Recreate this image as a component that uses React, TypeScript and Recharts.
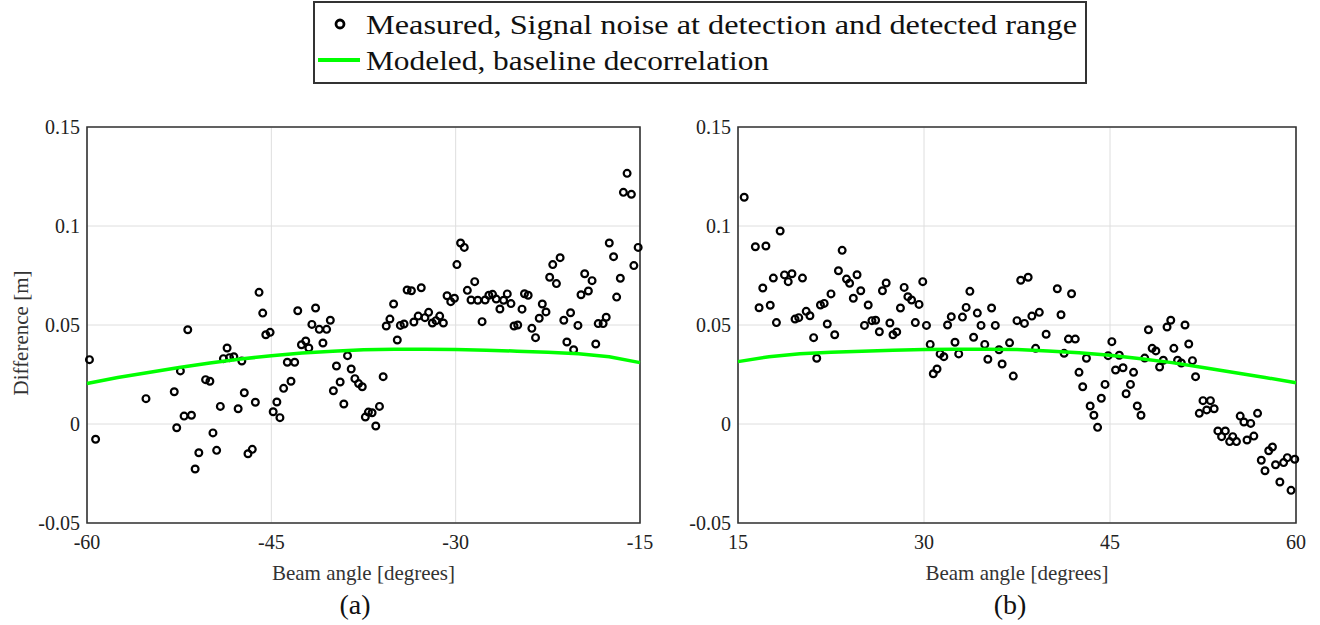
import React from "react";
import {
  ScatterChart,
  Scatter,
  XAxis,
  YAxis,
  CartesianGrid,
  ReferenceArea,
  Label,
} from "recharts";

// [beam angle (deg), difference (m)]
const leftMeasured: [number, number][] = [
  [-59.8, 0.0325], [-59.3, -0.0077], [-55.2, 0.0128], [-52.9, 0.0163], [-52.7, -0.0019],
  [-52.4, 0.0268], [-51.8, 0.0476], [-52.1, 0.004], [-51.5, 0.0044], [-51.2, -0.0227],
  [-50.9, -0.0145], [-50.35, 0.0224], [-50.0, 0.0216], [-49.75, -0.0045], [-49.45, -0.0133],
  [-49.15, 0.0089], [-48.6, 0.0384], [-48.9, 0.033], [-48.4, 0.0335], [-48.05, 0.034],
  [-47.4, 0.0318], [-47.7, 0.0077], [-47.2, 0.0158], [-46.9, -0.015], [-46.55, -0.0128],
  [-46.3, 0.011], [-46.0, 0.0665], [-45.7, 0.056], [-45.45, 0.0451], [-45.1, 0.0463],
  [-44.85, 0.0062], [-44.55, 0.0111], [-44.3, 0.0032], [-44.0, 0.018], [-43.4, 0.0216],
  [-43.7, 0.0312], [-43.1, 0.0312], [-42.85, 0.0572], [-41.4, 0.0586], [-42.55, 0.04],
  [-42.2, 0.0419], [-41.95, 0.0384], [-41.7, 0.0503], [-41.1, 0.0478], [-40.5, 0.0478],
  [-40.2, 0.0524], [-40.8, 0.0409], [-39.7, 0.0293], [-39.4, 0.0212], [-39.95, 0.0168],
  [-39.1, 0.0101], [-38.8, 0.0345], [-38.5, 0.0278], [-38.2, 0.0229], [-37.9, 0.0204],
  [-37.6, 0.0188], [-37.35, 0.0035], [-37.1, 0.006], [-36.8, 0.0057], [-36.5, -0.001],
  [-36.2, 0.0089], [-35.9, 0.0239], [-35.05, 0.0606], [-35.35, 0.053], [-35.65, 0.0495],
  [-34.75, 0.0424], [-33.95, 0.0677], [-33.6, 0.0673], [-32.8, 0.0688], [-34.5, 0.0498],
  [-34.2, 0.0505], [-33.4, 0.0515], [-33.05, 0.0545], [-32.5, 0.0537], [-32.2, 0.0564],
  [-31.9, 0.051], [-31.6, 0.0522], [-31.3, 0.0545], [-31.0, 0.051], [-30.7, 0.0648],
  [-30.4, 0.0618], [-30.1, 0.0635], [-29.9, 0.0805], [-29.6, 0.0914], [-29.3, 0.0892],
  [-29.05, 0.0675], [-28.45, 0.0719], [-28.75, 0.0626], [-28.2, 0.0625], [-27.6, 0.0626],
  [-27.85, 0.0517], [-27.3, 0.065], [-27.0, 0.0655], [-26.7, 0.0631], [-26.1, 0.0625],
  [-25.8, 0.0657], [-25.5, 0.0608], [-26.4, 0.0581], [-24.6, 0.058], [-25.25, 0.0495],
  [-24.95, 0.05], [-24.4, 0.0658], [-24.1, 0.065], [-23.8, 0.0483], [-23.5, 0.0436],
  [-23.2, 0.0534], [-22.65, 0.0566], [-22.95, 0.0606], [-22.35, 0.0741], [-21.8, 0.0709],
  [-22.1, 0.0805], [-21.5, 0.084], [-21.2, 0.0524], [-20.65, 0.0562], [-20.05, 0.0498],
  [-20.95, 0.0414], [-20.4, 0.0375], [-19.8, 0.0653], [-19.2, 0.0672], [-19.5, 0.0759],
  [-18.9, 0.0724], [-18.6, 0.0404], [-18.4, 0.0507], [-18.0, 0.0507], [-17.75, 0.0539],
  [-17.5, 0.0914], [-17.15, 0.0845], [-16.9, 0.0641], [-16.6, 0.0736], [-16.35, 0.117],
  [-15.7, 0.116], [-16.05, 0.1266], [-15.5, 0.08], [-15.15, 0.0892],
];

const rightMeasured: [number, number][] = [
  [15.5, 0.1145], [18.4, 0.0975], [16.4, 0.0895], [17.25, 0.0899], [23.4, 0.0877],
  [17.85, 0.0737], [18.75, 0.0753], [19.35, 0.0759], [19.05, 0.0719], [20.2, 0.0737],
  [17.0, 0.0687], [16.7, 0.0587], [17.6, 0.06], [23.1, 0.0774], [23.75, 0.0732],
  [24.6, 0.0754], [24.0, 0.0711], [24.9, 0.0673], [22.5, 0.0657], [24.3, 0.0635],
  [21.65, 0.0601], [21.95, 0.0609], [25.5, 0.0601], [26.65, 0.0673], [26.95, 0.0712],
  [28.4, 0.069], [28.7, 0.0643], [29.0, 0.0626], [29.6, 0.0604], [29.9, 0.0719],
  [28.1, 0.0586], [33.7, 0.067], [33.4, 0.0589], [34.3, 0.056], [35.45, 0.0586],
  [32.2, 0.0542], [33.1, 0.054], [37.8, 0.0726], [38.4, 0.0741], [18.1, 0.0512],
  [19.6, 0.053], [19.9, 0.0537], [20.5, 0.0569], [20.8, 0.0547], [21.1, 0.0436],
  [21.35, 0.0332], [22.2, 0.0505], [22.8, 0.0451], [25.2, 0.0498], [25.8, 0.0522],
  [26.1, 0.0524], [26.4, 0.0466], [27.25, 0.051], [27.5, 0.0451], [27.8, 0.0465],
  [29.3, 0.0512], [30.2, 0.0498], [30.5, 0.0402], [30.75, 0.0254], [31.05, 0.0278],
  [31.3, 0.0354], [31.6, 0.034], [31.9, 0.05], [32.5, 0.0413], [32.8, 0.0354],
  [34.0, 0.0438], [34.6, 0.0498], [34.9, 0.0402], [35.15, 0.0327], [35.75, 0.0498],
  [36.05, 0.0375], [36.3, 0.0303], [36.9, 0.041], [37.2, 0.0242], [37.5, 0.0522],
  [38.1, 0.0508], [38.7, 0.0545], [39.3, 0.0564], [39.0, 0.0382], [39.85, 0.0453],
  [41.05, 0.0552], [40.75, 0.0683], [41.9, 0.0658], [41.3, 0.0357], [41.65, 0.0429],
  [42.2, 0.0429], [42.5, 0.0261], [42.8, 0.0188], [43.1, 0.0332], [43.4, 0.0091],
  [43.7, 0.0044], [44.0, -0.0017], [44.3, 0.013], [44.6, 0.02], [44.85, 0.0345],
  [45.15, 0.0416], [45.45, 0.0273], [45.75, 0.0347], [46.05, 0.0284], [46.3, 0.0153],
  [46.65, 0.02], [46.9, 0.0261], [47.2, 0.0091], [47.5, 0.0044], [47.8, 0.0333],
  [48.1, 0.0476], [48.4, 0.0382], [48.7, 0.0369], [49.0, 0.0288], [49.3, 0.0322],
  [49.6, 0.049], [49.9, 0.0524], [50.15, 0.0382], [50.45, 0.0322], [50.75, 0.0308],
  [51.05, 0.05], [51.35, 0.0404], [51.65, 0.032], [51.9, 0.0239], [52.2, 0.0054],
  [52.5, 0.0118], [52.8, 0.0071], [53.1, 0.0118], [53.4, 0.0077], [53.7, -0.0035],
  [54.0, -0.0064], [54.3, -0.0035], [54.65, -0.0089], [54.9, -0.0064], [55.2, -0.0089],
  [55.5, 0.004], [55.8, 0.001], [56.05, -0.0081], [56.35, 0.0003], [56.6, -0.0061],
  [56.9, 0.0054], [57.2, -0.0183], [57.5, -0.0236], [57.8, -0.0135], [58.1, -0.0116],
  [58.35, -0.0206], [58.7, -0.0293], [59.0, -0.0195], [59.3, -0.017], [59.6, -0.0335],
  [59.9, -0.0178],
];

// modeled baseline decorrelation curve
const leftModelAngles = [-60, -57.5, -55, -52.5, -50, -47.5, -45, -42.5, -40, -37.5, -35, -32.5, -30, -27.5, -25, -22.5, -20, -17.5, -15];
const leftModel = [0.0205, 0.0235, 0.026, 0.0285, 0.0308, 0.0328, 0.0345, 0.0358, 0.0368, 0.0375, 0.0378, 0.0378, 0.0376, 0.0373, 0.0368, 0.0362, 0.0355, 0.034, 0.031];
const rightModelAngles = [15, 17.5, 20, 22.5, 25, 27.5, 30, 32.5, 35, 37.5, 40, 42.5, 45, 47.5, 50, 52.5, 55, 57.5, 60];
const rightModel = [0.0315, 0.034, 0.0355, 0.0362, 0.0368, 0.0372, 0.0376, 0.0378, 0.0378, 0.0376, 0.0369, 0.036, 0.0347, 0.033, 0.031, 0.0285, 0.026, 0.0235, 0.0208];

const leftTicks = [-60, -45, -30, -15];
const rightTicks = [15, 30, 45, 60];
const yTicks = [-0.05, 0, 0.05, 0.1, 0.15];

const FONT = "'Liberation Serif', 'DejaVu Serif', serif";
const GREEN = "#00ff00";
const serif = { fontFamily: FONT };

const Ring = (props: any) => (
  <circle cx={props.cx} cy={props.cy} r={3.4} fill="none" stroke="#000" strokeWidth={2.2} />
);

const XTick = (props: any) => (
  <text x={props.x} y={props.y + 7} textAnchor="middle" dominantBaseline="central" fill="#222" fontSize={20} style={serif}>
    {props.payload.value}
  </text>
);

const YTick = (props: any) => (
  <text x={props.x} y={props.y} textAnchor="end" dominantBaseline="central" fill="#222" fontSize={20} style={serif}>
    {String(props.payload.value)}
  </text>
);

type PanelProps = {
  measured: [number, number][];
  modelX: number[];
  modelY: number[];
  ticks: number[];
  left: number;
  width: number;
  yAxisWidth: number;
  marginRight: number;
  showYLabel: boolean;
};

function Panel({ measured, modelX, modelY, ticks, left, width, yAxisWidth, marginRight, showYLabel }: PanelProps) {
  const points = measured.map(([x, y]) => ({ x, y }));
  const model = modelX.map((x, i) => ({ x, y: modelY[i] }));
  const domain: [number, number] = [ticks[0], ticks[ticks.length - 1]];
  return (
    <div style={{ position: "absolute", left, top: 100 }}>
      <ScatterChart width={width} height={500} margin={{ top: 27, right: marginRight, bottom: 0, left: 0 }}>
        <CartesianGrid stroke="#dedede" strokeWidth={1} />
        <XAxis
          type="number"
          dataKey="x"
          domain={domain}
          ticks={ticks}
          interval={0}
          height={77}
          tickLine={false}
          axisLine={false}
          tickSize={0}
          tickMargin={12}
          tick={<XTick />}
        >
          <Label
            content={(p: any) => (
              <text
                x={p.viewBox.x + p.viewBox.width / 2}
                y={p.viewBox.y + 50}
                textAnchor="middle"
                dominantBaseline="central"
                fill="#333"
                fontSize={21}
                style={serif}
              >
                Beam angle [degrees]
              </text>
            )}
          />
        </XAxis>
        <YAxis
          type="number"
          dataKey="y"
          domain={[-0.05, 0.15]}
          ticks={yTicks}
          interval={0}
          width={yAxisWidth}
          tickLine={false}
          axisLine={false}
          tickSize={0}
          tickMargin={7}
          tick={<YTick />}
        >
          {showYLabel && (
            <Label
              content={(p: any) => {
                const cx = 21;
                const cy = p.viewBox.y + p.viewBox.height / 2 + 8;
                return (
                  <text
                    x={cx}
                    y={cy}
                    transform={`rotate(-90, ${cx}, ${cy})`}
                    textAnchor="middle"
                    dominantBaseline="central"
                    fill="#333"
                    fontSize={21}
                    style={serif}
                  >
                    Difference [m]
                  </text>
                );
              }}
            />
          )}
        </YAxis>
        <ReferenceArea
          x1={domain[0]}
          x2={domain[1]}
          y1={-0.05}
          y2={0.15}
          fill="none"
          fillOpacity={0}
          stroke="#333"
          strokeWidth={1.6}
        />
        <Scatter data={points} shape={Ring} isAnimationActive={false} />
        <Scatter
          data={model}
          line={{ stroke: GREEN, strokeWidth: 3.5 }}
          lineType="joint"
          shape={() => <g />}
          isAnimationActive={false}
        />
      </ScatterChart>
    </div>
  );
}

export default function App() {
  return (
    <div style={{ position: "absolute", left: 0, top: 0, width: 1320, height: 625, background: "#fff", fontFamily: FONT }}>
      <svg style={{ position: "absolute", left: 0, top: 0 }} width={1320} height={90}>
        <rect x={314} y={2} width={772} height={81} fill="#fff" stroke="#333" strokeWidth={2} />
        <circle cx={340} cy={24} r={4} fill="none" stroke="#000" strokeWidth={2.8} />
        <line x1={318} y1={60} x2={360} y2={60} stroke={GREEN} strokeWidth={4} />
        <text x={366} y={24} dominantBaseline="central" fontSize={28} style={serif} fill="#111" textLength={711} lengthAdjust="spacingAndGlyphs">
          Measured, Signal noise at detection and detected range
        </text>
        <text x={366} y={60} dominantBaseline="central" fontSize={28} style={serif} fill="#111" textLength={403} lengthAdjust="spacingAndGlyphs">
          Modeled, baseline decorrelation
        </text>
      </svg>
      <Panel
        measured={leftMeasured}
        modelX={leftModelAngles}
        modelY={leftModel}
        ticks={leftTicks}
        left={0}
        width={660}
        yAxisWidth={87}
        marginRight={20}
        showYLabel={true}
      />
      <Panel
        measured={rightMeasured}
        modelX={rightModelAngles}
        modelY={rightModel}
        ticks={rightTicks}
        left={650}
        width={670}
        yAxisWidth={88}
        marginRight={24}
        showYLabel={false}
      />
      <div style={{ position: "absolute", left: 300, width: 110, top: 588, textAlign: "center", fontSize: 28, lineHeight: "34px", color: "#111" }}>
        (a)
      </div>
      <div style={{ position: "absolute", left: 955, width: 110, top: 588, textAlign: "center", fontSize: 28, lineHeight: "34px", color: "#111" }}>
        (b)
      </div>
    </div>
  );
}
